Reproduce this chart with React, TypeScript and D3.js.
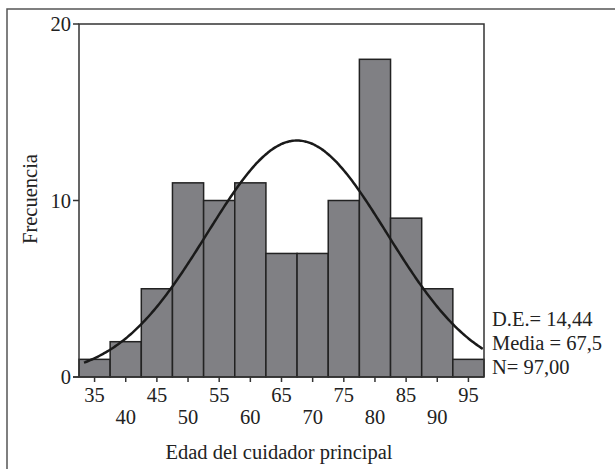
import React, { useEffect, useRef } from "react";
import * as d3 from "d3";

// bin centres (ages) and counts
const binCenters = [35, 40, 45, 50, 55, 60, 65, 70, 75, 80, 85, 90, 95];
const counts = [1, 2, 5, 11, 10, 11, 7, 7, 10, 18, 9, 5, 1];
const yTicks = [0, 10, 20];
const statsLines = ["D.E.= 14,44", "Media = 67,5", "N= 97,00"];
const mean = 67.5;
const sd = 14.44;
const total = 97;
const binWidth = 5;

export default function App() {
  const ref = useRef<SVGSVGElement>(null);

  useEffect(() => {
    const svg = d3.select(ref.current);
    svg.selectAll("*").remove();

    const font = "'Liberation Serif', 'Times New Roman', serif";
    const fs = 20.5;
    const left = 79,
      right = 484,
      top = 24,
      bottom = 377;

    const x = d3
      .scaleLinear()
      .domain([32.5, 97.5])
      .range([left, right]);
    const y = d3.scaleLinear().domain([0, 20]).range([bottom, top]);

    // outer frame (runs off the page right and bottom)
    svg
      .append("path")
      .attr("d", "M7,480 L7,9 L630,9")
      .attr("fill", "none")
      .attr("stroke", "#555")
      .attr("stroke-width", 1.5);

    // bars
    svg
      .append("g")
      .selectAll("rect")
      .data(counts)
      .enter()
      .append("rect")
      .attr("x", (d, i) => x(binCenters[i] - binWidth / 2))
      .attr("width", (d, i) => x(binCenters[i] + binWidth / 2) - x(binCenters[i] - binWidth / 2))
      .attr("y", (d) => y(d))
      .attr("height", (d) => y(0) - y(d))
      .attr("fill", "#808084")
      .attr("stroke", "#222")
      .attr("stroke-width", 1.5);

    // normal curve from the stated mean / sd
    const ages = d3.range(33.3, 97.51, 0.25);
    const pdf = (a: number) =>
      ((total * binWidth) / (sd * Math.sqrt(2 * Math.PI))) *
      Math.exp(-0.5 * ((a - mean) / sd) ** 2);
    const line = d3
      .line<number>()
      .x((a) => x(a))
      .y((a) => y(pdf(a)))
      .curve(d3.curveBasis);
    svg
      .append("path")
      .datum(ages)
      .attr("d", line)
      .attr("fill", "none")
      .attr("stroke", "#1a1a1a")
      .attr("stroke-width", 2.5);

    // plot box: left, top, right
    svg
      .append("path")
      .attr("d", `M${left},${bottom} L${left},${top} L${right},${top} L${right},${bottom}`)
      .attr("fill", "none")
      .attr("stroke", "#333")
      .attr("stroke-width", 1.5);

    // y axis ticks
    const yAxis = svg.append("g");
    yTicks.forEach((t) => {
      yAxis
        .append("line")
        .attr("x1", left - 6)
        .attr("x2", left)
        .attr("y1", y(t))
        .attr("y2", y(t))
        .attr("stroke", "#333")
        .attr("stroke-width", 1.5);
      yAxis
        .append("text")
        .attr("x", left - 8)
        .attr("y", y(t))
        .attr("dy", "0.35em")
        .attr("text-anchor", "end")
        .attr("font-family", font)
        .attr("font-size", fs)
        .attr("fill", "#222")
        .text(t);
    });

    // x axis baseline + ticks
    svg
      .append("line")
      .attr("x1", left - 6)
      .attr("x2", right)
      .attr("y1", bottom)
      .attr("y2", bottom)
      .attr("stroke", "#333")
      .attr("stroke-width", 1.5);
    const xAxis = svg.append("g");
    binCenters.forEach((c, i) => {
      xAxis
        .append("line")
        .attr("x1", x(c))
        .attr("x2", x(c))
        .attr("y1", bottom)
        .attr("y2", bottom + 5)
        .attr("stroke", "#333")
        .attr("stroke-width", 1.5);
      xAxis
        .append("text")
        .attr("x", x(c))
        .attr("y", i % 2 === 0 ? 402 : 424)
        .attr("text-anchor", "middle")
        .attr("font-family", font)
        .attr("font-size", fs)
        .attr("fill", "#222")
        .text(c);
    });

    // axis titles
    svg
      .append("text")
      .attr("x", 279)
      .attr("y", 459)
      .attr("text-anchor", "middle")
      .attr("font-family", font)
      .attr("font-size", fs)
      .attr("fill", "#222")
      .text("Edad del cuidador principal");
    svg
      .append("text")
      .attr("transform", "translate(37,199) rotate(-90)")
      .attr("text-anchor", "middle")
      .attr("font-family", font)
      .attr("font-size", fs)
      .attr("fill", "#222")
      .text("Frecuencia");

    // stats
    statsLines.forEach((s, i) => {
      svg
        .append("text")
        .attr("x", 492)
        .attr("y", 326 + i * 24)
        .attr("font-family", font)
        .attr("font-size", fs)
        .attr("fill", "#222")
        .text(s);
    });
  }, []);

  return (
    <svg
      ref={ref}
      width={615}
      height={469}
      style={{ position: "absolute", left: 0, top: 0, background: "#fff" }}
    ></svg>
  );
}
